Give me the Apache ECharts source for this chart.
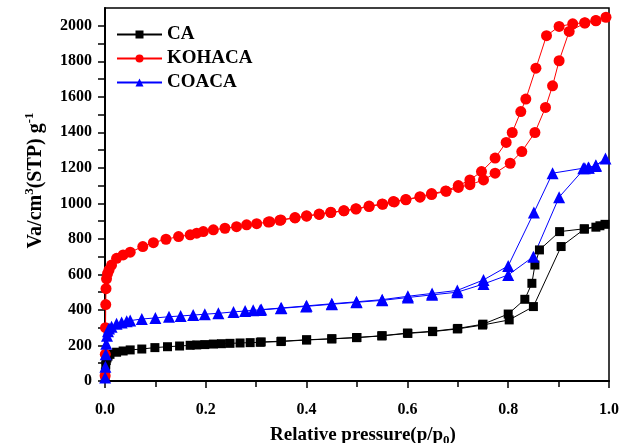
<!DOCTYPE html>
<html>
<head>
<meta charset="utf-8">
<script src="https://cdn.jsdelivr.net/npm/echarts@6/dist/echarts.min.js"></script>
<style>
  html, body { margin: 0; padding: 0; background: #fff; }
  #chart { width: 631px; height: 443px; }
</style>
</head>
<body>
<div id="chart"></div>
<script>
// isotherm points [p/p0, volume], adsorption branch then desorption branch
const caData = [
  [0.0003, 15], [0.0008, 50], [0.0015, 90], [0.0025, 115], [0.004, 130], [0.006, 140],
  [0.0099, 150], [0.023, 162], [0.036, 169], [0.05, 175], [0.073, 180], [0.099, 188],
  [0.124, 193], [0.148, 197], [0.169, 201], [0.182, 203], [0.198, 205], [0.215, 208],
  [0.231, 210], [0.248, 212], [0.268, 214], [0.288, 216], [0.308, 218], [0.349, 222],
  [0.4, 231], [0.45, 237], [0.499, 244], [0.549, 254], [0.601, 268], [0.65, 278],
  [0.699, 293], [0.749, 315], [0.802, 344], [0.85, 419], [0.905, 757], [0.951, 855],
  [0.974, 866], [0.992, 882],
  // desorption
  [0.982, 874], [0.951, 857], [0.902, 841], [0.862, 738], [0.853, 653], [0.847, 550],
  [0.833, 460], [0.8, 377], [0.75, 320], [0.7, 296], [0.65, 280], [0.6, 270],
  [0.55, 255], [0.5, 245], [0.45, 238], [0.4, 232], [0.35, 224], [0.31, 220]
];

const kohacaData = [
  [0.0003, 30], [0.0006, 150], [0.001, 300], [0.0015, 430], [0.002, 520], [0.003, 575],
  [0.005, 605], [0.008, 625], [0.013, 653], [0.023, 691], [0.036, 710], [0.05, 725],
  [0.075, 757], [0.096, 779], [0.121, 798], [0.146, 813], [0.169, 823], [0.182, 832],
  [0.195, 841], [0.215, 851], [0.238, 860], [0.261, 869], [0.281, 879], [0.301, 886],
  [0.327, 896], [0.347, 905], [0.377, 918], [0.4, 928], [0.425, 938], [0.448, 948],
  [0.474, 958], [0.498, 968], [0.524, 982], [0.551, 995], [0.574, 1008], [0.597, 1020],
  [0.625, 1035], [0.648, 1050], [0.677, 1068], [0.701, 1090], [0.724, 1105], [0.751, 1132],
  [0.774, 1170], [0.804, 1226], [0.827, 1292], [0.853, 1399], [0.874, 1540], [0.888, 1662],
  [0.901, 1803], [0.921, 1968], [0.952, 2015], [0.974, 2028], [0.994, 2048],
  // desorption
  [0.974, 2030], [0.952, 2017], [0.928, 2011], [0.901, 1996], [0.876, 1944], [0.855, 1761],
  [0.835, 1587], [0.825, 1517], [0.808, 1399], [0.796, 1343], [0.774, 1255], [0.747, 1179],
  [0.724, 1132], [0.701, 1100], [0.676, 1070], [0.648, 1055], [0.625, 1038], [0.597, 1022],
  [0.572, 1010], [0.55, 997], [0.524, 985], [0.498, 970], [0.474, 959], [0.448, 950],
  [0.425, 940], [0.4, 930], [0.377, 920], [0.349, 907], [0.324, 895]
];

const coacaData = [
  [0.0003, 20], [0.0008, 80], [0.0015, 150], [0.0025, 210], [0.004, 255], [0.006, 280],
  [0.008, 295], [0.013, 306], [0.023, 322], [0.033, 330], [0.043, 336], [0.05, 340],
  [0.073, 349], [0.1, 355], [0.127, 362], [0.15, 366], [0.175, 371], [0.198, 376],
  [0.225, 381], [0.255, 389], [0.278, 394], [0.294, 398], [0.308, 400], [0.349, 409],
  [0.399, 420], [0.45, 432], [0.499, 443], [0.55, 454], [0.601, 470], [0.649, 485],
  [0.699, 500], [0.751, 546], [0.8, 597], [0.85, 700], [0.901, 1035], [0.952, 1198],
  [0.96, 1200], [0.974, 1211], [0.993, 1252],
  // desorption
  [0.974, 1214], [0.959, 1202], [0.949, 1198], [0.888, 1170], [0.851, 948], [0.8, 648],
  [0.751, 569], [0.699, 510], [0.649, 493], [0.601, 477], [0.55, 458], [0.499, 446],
  [0.45, 435], [0.4, 423], [0.35, 411], [0.31, 402]
];

const seriesNames = ['CA', 'KOHACA', 'COACA'];
const yTicks = [0, 100, 200, 300, 400, 500, 600, 700, 800, 900, 1000, 1100, 1200, 1300, 1400, 1500, 1600, 1700, 1800, 1900, 2000];
const yLabels = [0, 200, 400, 600, 800, 1000, 1200, 1400, 1600, 1800, 2000];

const font = '"Liberation Serif", "Times New Roman", serif';

const chart = echarts.init(document.getElementById('chart'));

function makeSeries(name, data, color, symbol, size) {
  return {
    name: name,
    type: 'line',
    data: data,
    symbol: symbol,
    symbolSize: size,
    showSymbol: true,
    animation: false,
    lineStyle: { color: color, width: 1 },
    itemStyle: { color: color }
  }
}

chart.setOption({
  animation: false,
  grid: {
    left: 105,
    right: 22,
    top: 8,
    bottom: 62,
    outerBoundsMode: 'none',
    show: true,
    borderColor: '#000',
    borderWidth: 1.5
  },
  legend: {
    orient: 'vertical',
    left: 111,
    top: 20,
    itemWidth: 45,
    itemHeight: 10,
    itemGap: 5,
    data: seriesNames,
    textStyle: { fontFamily: font, fontWeight: 'bold', fontSize: 19, color: '#000' }
  },
  xAxis: {
    type: 'value',
    min: 0,
    max: 1,
    interval: 0.2,
    splitLine: { show: false },
    axisLine: { lineStyle: { color: '#000', width: 2 } },
    axisTick: { length: 7, lineStyle: { color: '#000', width: 1.5 } },
    minorTick: { show: true, splitNumber: 2, length: 6, lineStyle: { color: '#000', width: 1.5 } },
    axisLabel: {
      formatter: v => v.toFixed(1),
      margin: 21,
      color: '#000',
      fontFamily: font,
      fontWeight: 'bold',
      fontSize: 16
    },
    name: 'Relative pressure(p/p{sub|0})',
    nameLocation: 'middle',
    nameGap: 35,
    nameTextStyle: {
      fontFamily: font,
      fontWeight: 'bold',
      fontSize: 19,
      color: '#000',
      lineHeight: 24,
      padding: [0, 0, 0, 12],
      rich: {
        sub: { fontFamily: font, fontWeight: 'bold', fontSize: 13, color: '#000', verticalAlign: 'bottom', lineHeight: 12 }
      }
    }
  },
  yAxis: {
    type: 'value',
    min: 0,
    max: 2100,
    splitLine: { show: false },
    axisLine: { lineStyle: { color: '#000', width: 2 } },
    axisTick: { customValues: yTicks, length: 7, lineStyle: { color: '#000', width: 1.5 } },
    axisLabel: {
      customValues: yLabels,
      formatter: v => String(v),
      margin: 13,
      color: '#000',
      fontFamily: font,
      fontWeight: 'bold',
      fontSize: 16
    },
    name: 'Va/cm{sup|3}(STP) g{sup|-1}',
    nameLocation: 'middle',
    nameRotate: 90,
    nameGap: 54,
    nameTextStyle: {
      fontFamily: font,
      fontWeight: 'bold',
      fontSize: 20,
      color: '#000',
      lineHeight: 26,
      padding: [0, 0, 0, 28],
      rich: {
        sup: { fontFamily: font, fontWeight: 'bold', fontSize: 13, color: '#000', verticalAlign: 'top', lineHeight: 13 }
      }
    }
  },
  series: [
    makeSeries(seriesNames[0], caData, '#000000', 'rect', 9),
    makeSeries(seriesNames[1], kohacaData, '#ff0000', 'circle', 11),
    makeSeries(seriesNames[2], coacaData, '#0000ff', 'triangle', 12)
  ]
});
</script>
</body>
</html>
